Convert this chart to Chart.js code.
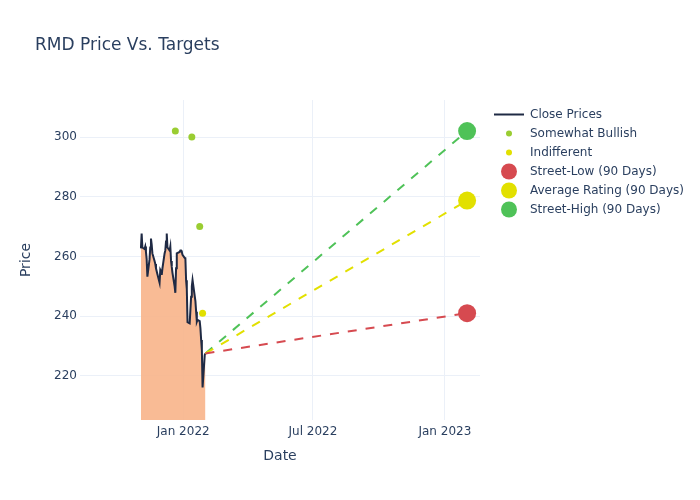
<!DOCTYPE html>
<html>
<head>
<meta charset="utf-8">
<script src="https://cdn.jsdelivr.net/npm/chart.js@4.4.1/dist/chart.umd.min.js"></script>
<style>
  html, body { margin: 0; padding: 0; background: #fff; }
  #wrap { width: 700px; height: 500px; position: relative; }
</style>
</head>
<body>
<div id="wrap"><canvas id="chart"></canvas></div>
<script>
// close prices (90 days)
const closeDates = [
  '2021-11-03','2021-11-04','2021-11-05','2021-11-08','2021-11-09','2021-11-10','2021-11-11','2021-11-12',
  '2021-11-15','2021-11-16','2021-11-17','2021-11-18','2021-11-19','2021-11-22','2021-11-23','2021-11-24',
  '2021-11-26','2021-11-29','2021-11-30','2021-12-01','2021-12-02','2021-12-03','2021-12-06','2021-12-07',
  '2021-12-08','2021-12-09','2021-12-10','2021-12-13','2021-12-14','2021-12-15','2021-12-16','2021-12-17',
  '2021-12-20','2021-12-21','2021-12-22','2021-12-23','2021-12-27','2021-12-28','2021-12-29','2021-12-30',
  '2021-12-31','2022-01-03','2022-01-04','2022-01-05','2022-01-06','2022-01-07','2022-01-10','2022-01-11',
  '2022-01-12','2022-01-13','2022-01-14','2022-01-18','2022-01-19','2022-01-20','2022-01-21','2022-01-24',
  '2022-01-25','2022-01-26','2022-01-27','2022-01-28','2022-01-31','2022-02-01'
];
const closePrices = [
  262.7, 267.7, 263.0, 262.5, 263.3, 261.5, 259.0, 253.2,
  259.0, 263.0, 266.0, 264.0, 261.0, 258.5, 257.5, 256.0,
  254.0, 251.2, 255.5, 255.0, 253.8, 256.0, 261.0, 262.0,
  265.0, 267.7, 263.0, 262.0, 263.3, 258.5, 256.5, 254.5,
  250.0, 247.8, 256.0, 261.0, 261.5, 262.0, 262.0, 261.5,
  260.5, 259.5, 259.4, 252.0, 249.0, 238.0, 237.6, 242.0,
  246.5, 250.0, 252.1, 245.0, 241.5, 238.1, 238.7, 238.3,
  235.9, 232.0, 228.6, 216.1, 227.0, 227.5
];

// analyst ratings
const bullishDates = ['2021-12-21', '2022-01-13', '2022-01-24'];
const bullishPrices = [302, 300, 270];
const indifferentDates = ['2022-01-28'];
const indifferentPrices = [241];

// street targets (90 days)
const targetDate = '2023-02-01';
const targetLow = 241;
const targetAvg = 278.7;
const targetHigh = 302;

// axes
const xRange = ['2021-08-10', '2023-02-19'];
const xTickDates = ['2022-01-01', '2022-07-01', '2023-01-01'];
const xTickLabels = ['Jan 2022', 'Jul 2022', 'Jan 2023'];
const yRange = [205.2, 312.4];
const yTicks = [220, 240, 260, 280, 300];

const FONT = '"DejaVu Sans", sans-serif';
const INK = '#2a3f5f';
const GRID = '#ebf0f8';
const RED = '#d64a50', YEL = '#e2e000', GRN = '#4fc258', YG = '#9acd32';

const t = s => Date.parse(s);
const pts = (ds, vs) => ds.map((d, i) => ({x: t(d), y: vs[i]}));
const lastX = t(closeDates[closeDates.length - 1]);
const lastY = closePrices[closePrices.length - 1];
const seg = v => [{x: lastX, y: lastY}, {x: t(targetDate), y: v}];

// title + plotly-like legend with per-item symbol size
const decor = {
  id: 'decor',
  afterDraw(chart) {
    const ctx = chart.ctx;
    ctx.save();
    ctx.fillStyle = INK;
    ctx.font = '17px ' + FONT;
    ctx.textAlign = 'left';
    ctx.textBaseline = 'alphabetic';
    ctx.fillText('RMD Price Vs. Targets', 35, 50);

    let y = 114.5;
    ctx.font = '12px ' + FONT;
    ctx.textBaseline = 'middle';
    chart.data.datasets.forEach(ds => {
      if (!ds.legendSym) return;
      if (ds.legendSym === 'line') {
        ctx.strokeStyle = ds.borderColor;
        ctx.lineWidth = 2;
        ctx.beginPath(); ctx.moveTo(494, y); ctx.lineTo(524, y); ctx.stroke();
      } else {
        ctx.fillStyle = ds.backgroundColor;
        ctx.beginPath(); ctx.arc(509, y, ds.legendSym, 0, Math.PI * 2); ctx.fill();
      }
      ctx.fillStyle = INK;
      ctx.fillText(ds.label, 530, y);
      y += 19;
    });
    ctx.restore();
  }
};

new Chart(document.getElementById('chart'), {
  type: 'line',
  data: {
    datasets: [
      {label: 'Close Prices', data: pts(closeDates, closePrices), borderColor: '#1f2a44', borderWidth: 2,
       backgroundColor: 'rgba(248,180,138,0.9)', fill: 'origin', pointRadius: 0, tension: 0, order: 10, legendSym: 'line'},
      {label: 'Somewhat Bullish', data: pts(bullishDates, bullishPrices), showLine: false, pointRadius: 3.5,
       backgroundColor: YG, borderColor: YG, borderWidth: 0, order: 2, legendSym: 3},
      {label: 'Indifferent', data: pts(indifferentDates, indifferentPrices), showLine: false, pointRadius: 3.5,
       backgroundColor: YEL, borderColor: YEL, borderWidth: 0, order: 2, legendSym: 3},
      {label: 'low-line', data: seg(targetLow), borderColor: RED, borderWidth: 2, borderDash: [9, 9], pointRadius: 0, order: 5},
      {label: 'avg-line', data: seg(targetAvg), borderColor: YEL, borderWidth: 2, borderDash: [9, 9], pointRadius: 0, order: 5},
      {label: 'high-line', data: seg(targetHigh), borderColor: GRN, borderWidth: 2, borderDash: [9, 9], pointRadius: 0, order: 5},
      {label: 'Street-Low (90 Days)', data: [{x: t(targetDate), y: targetLow}], showLine: false, pointRadius: 9,
       backgroundColor: RED, borderColor: RED, borderWidth: 0, order: 1, legendSym: 8},
      {label: 'Average Rating (90 Days)', data: [{x: t(targetDate), y: targetAvg}], showLine: false, pointRadius: 9,
       backgroundColor: YEL, borderColor: YEL, borderWidth: 0, order: 1, legendSym: 8},
      {label: 'Street-High (90 Days)', data: [{x: t(targetDate), y: targetHigh}], showLine: false, pointRadius: 9,
       backgroundColor: GRN, borderColor: GRN, borderWidth: 0, order: 1, legendSym: 8}
    ]
  },
  options: {
    responsive: true, maintainAspectRatio: false, animation: false,
    layout: {padding: {top: 100, right: 220, left: 0, bottom: 0}},
    plugins: {legend: {display: false}, title: {display: false}, tooltip: {enabled: false}},
    scales: {
      x: {
        type: 'linear', min: t(xRange[0]), max: t(xRange[1]),
        afterBuildTicks: s => { s.ticks = xTickDates.map(d => ({value: t(d)})); },
        afterFit: s => { s.height = 80; },
        grid: {color: GRID, drawTicks: false},
        border: {display: false},
        ticks: {color: INK, font: {family: FONT, size: 12}, padding: 5, maxRotation: 0,
                callback: (v, i) => xTickLabels[i]},
        title: {display: true, text: 'Date', color: INK, font: {family: FONT, size: 14}, padding: {bottom: 35}}
      },
      y: {
        min: yRange[0], max: yRange[1],
        afterBuildTicks: s => { s.ticks = yTicks.map(v => ({value: v})); },
        afterFit: s => { s.width = 80; },
        grid: {color: GRID, drawTicks: false},
        border: {display: false},
        ticks: {color: INK, font: {family: FONT, size: 12}, padding: 3},
        title: {display: true, text: 'Price', color: INK, font: {family: FONT, size: 14}, padding: {top: 18}}
      }
    }
  },
  plugins: [decor]
});
</script>
</body>
</html>
